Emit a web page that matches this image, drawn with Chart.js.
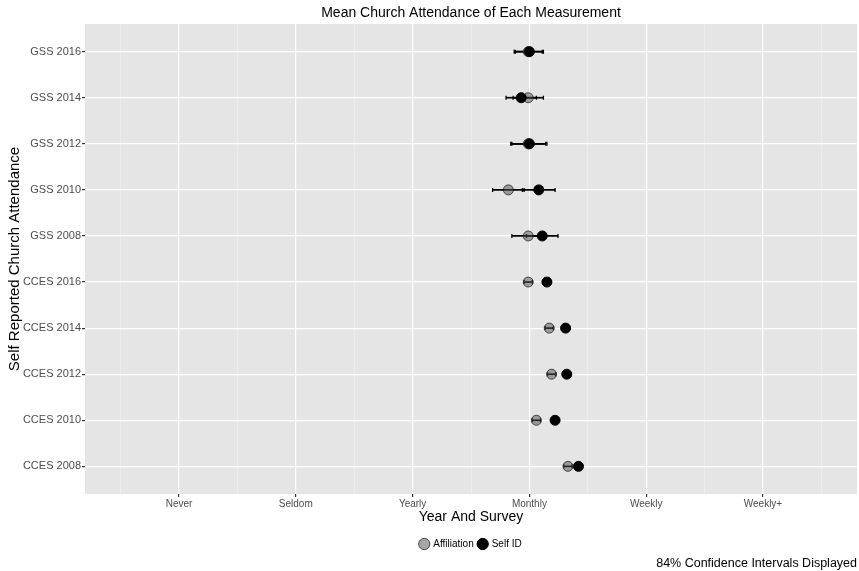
<!DOCTYPE html>
<html>
<head>
<meta charset="utf-8">
<script src="https://cdn.jsdelivr.net/npm/chart.js@4/dist/chart.umd.min.js"></script>
<style>
  html, body { margin: 0; padding: 0; background: #ffffff; }
  #wrap { width: 859px; height: 571px; }
</style>
</head>
<body>
<div id="wrap"><canvas id="c" width="859" height="571"></canvas></div>
<script>
// ---- data ----
const categories = ["GSS 2016", "GSS 2014", "GSS 2012", "GSS 2010", "GSS 2008",
                    "CCES 2016", "CCES 2014", "CCES 2012", "CCES 2010", "CCES 2008"];
const xLabels = ["Never", "Seldom", "Yearly", "Monthly", "Weekly", "Weekly+"];
const affiliationMean = [3.99, 3.99, 3.99, 3.82, 3.99, 3.99, 4.17, 4.19, 4.06, 4.33];
const affiliationCI   = [0.12, 0.13, 0.15, 0.135, 0.14, 0.035, 0.035, 0.035, 0.035, 0.035];
const selfIdMean      = [4.00, 3.93, 4.00, 4.08, 4.11, 4.15, 4.31, 4.32, 4.22, 4.42];
const selfIdCI        = [0.12, 0.13, 0.15, 0.14, 0.135, 0.035, 0.035, 0.035, 0.035, 0.035];
const seriesNames = ["Affiliation", "Self ID"];
const titleText = "Mean Church Attendance of Each Measurement";
const xTitle = "Year And Survey";
const yTitle = "Self Reported Church Attendance";
const captionText = "84% Confidence Intervals Displayed";

const FONT = "'Liberation Sans', Arial, sans-serif";

function toPoints(means) {
  return means.map((m, i) => ({ x: m, y: i }));
}

const panelBg = {
  id: 'panelBg',
  beforeDraw(chart) {
    const a = chart.chartArea, ctx = chart.ctx;
    ctx.save();
    ctx.fillStyle = '#E5E5E5';
    ctx.fillRect(a.left, a.top, a.right - a.left, a.bottom - a.top);
    ctx.restore();
  }
};

const errorBars = {
  id: 'errorBars',
  beforeDatasetsDraw(chart) {
    const ctx = chart.ctx, xs = chart.scales.x, ys = chart.scales.y;
    const cis = [affiliationCI, selfIdCI];
    ctx.save();
    ctx.strokeStyle = '#000';
    chart.data.datasets.forEach((ds, di) => {
      ds.data.forEach((p, i) => {
        const ci = cis[di][i];
        const x1 = xs.getPixelForValue(p.x - ci);
        const x2 = xs.getPixelForValue(p.x + ci);
        const y = ys.getPixelForValue(p.y);
        ctx.lineWidth = 1.7;
        ctx.beginPath();
        ctx.moveTo(x1, y); ctx.lineTo(x2, y);
        ctx.stroke();
        ctx.lineWidth = 1.3;
        ctx.beginPath();
        ctx.moveTo(x1, y - 2); ctx.lineTo(x1, y + 2);
        ctx.moveTo(x2, y - 2); ctx.lineTo(x2, y + 2);
        ctx.stroke();
      });
    });
    ctx.restore();
  }
};

new Chart(document.getElementById('c'), {
  type: 'scatter',
  data: {
    datasets: [
      {
        label: seriesNames[0],
        data: toPoints(affiliationMean),
        order: 1,
        pointRadius: 5,
        pointHoverRadius: 5,
        backgroundColor: 'rgba(80,80,80,0.5)',
        borderColor: 'rgba(30,30,30,0.75)',
        borderWidth: 1
      },
      {
        label: seriesNames[1],
        data: toPoints(selfIdMean),
        order: 0,
        pointRadius: 5,
        pointHoverRadius: 5,
        backgroundColor: '#000000',
        borderColor: '#000000',
        borderWidth: 1
      }
    ]
  },
  options: {
    responsive: false,
    animation: false,
    events: [],
    layout: { autoPadding: false, padding: { left: 0, right: 2, top: 0, bottom: 0 } },
    plugins: {
      tooltip: { enabled: false },
      title: {
        display: true,
        text: titleText,
        fullSize: false,
        color: '#000',
        font: { family: FONT, size: 14, weight: 'normal', lineHeight: 1.2 },
        padding: { top: 5, bottom: 2.2 }
      },
      legend: {
        display: true,
        position: 'bottom',
        fullSize: false,
        maxHeight: 20,
        labels: {
          usePointStyle: true,
          pointStyle: 'circle',
          boxWidth: 8,
          boxHeight: 8,
          padding: 5,
          color: '#000',
          font: { family: FONT, size: 10 },
          sort: (a, b) => a.datasetIndex - b.datasetIndex
        }
      },
      subtitle: {
        display: true,
        text: captionText,
        position: 'bottom',
        align: 'end',
        color: '#000',
        font: { family: FONT, size: 12.5, weight: 'normal', lineHeight: 1.2 },
        padding: { top: 1.7, bottom: 0.3 }
      }
    },
    scales: {
      x: {
        type: 'linear',
        min: 0.195,
        max: 6.805,
        afterBuildTicks(scale) {
          const t = [];
          for (let v = 0.5; v <= 6.5; v += 0.5) t.push({ value: v });
          scale.ticks = t;
        },
        afterFit(scale) { scale.height = 40; },
        border: { display: false },
        grid: {
          color: (c) => (c.tick && Number.isInteger(c.tick.value)) ? '#FFFFFF' : '#F2F2F2',
          lineWidth: (c) => (c.tick && Number.isInteger(c.tick.value)) ? 1.2 : 0.6,
          tickColor: (c) => (c.tick && Number.isInteger(c.tick.value)) ? '#333333' : 'rgba(0,0,0,0)',
          tickLength: 3,
          drawTicks: true
        },
        ticks: {
          autoSkip: false,
          maxRotation: 0,
          padding: 1,
          color: '#4D4D4D',
          font: { family: FONT, size: 10 },
          callback: (v) => Number.isInteger(v) ? xLabels[v - 1] : ''
        },
        title: {
          display: true,
          text: xTitle,
          color: '#000',
          font: { family: FONT, size: 14 },
          padding: { top: 0, bottom: 8 }
        }
      },
      y: {
        type: 'linear',
        reverse: true,
        min: -0.6,
        max: 9.6,
        afterBuildTicks(scale) {
          scale.ticks = categories.map((_, i) => ({ value: i }));
        },
        afterFit(scale) { scale.width = 85; },
        border: { display: false },
        grid: {
          color: '#FFFFFF',
          lineWidth: 1.2,
          tickColor: '#333333',
          tickLength: 3
        },
        ticks: {
          autoSkip: false,
          padding: 1,
          color: '#4D4D4D',
          font: { family: FONT, size: 11 },
          callback: (v) => categories[v]
        },
        title: {
          display: true,
          text: yTitle,
          color: '#000',
          font: { family: FONT, size: 15 },
          padding: { top: 6, bottom: 0 }
        }
      }
    }
  },
  plugins: [panelBg, errorBars]
});
</script>
</body>
</html>
